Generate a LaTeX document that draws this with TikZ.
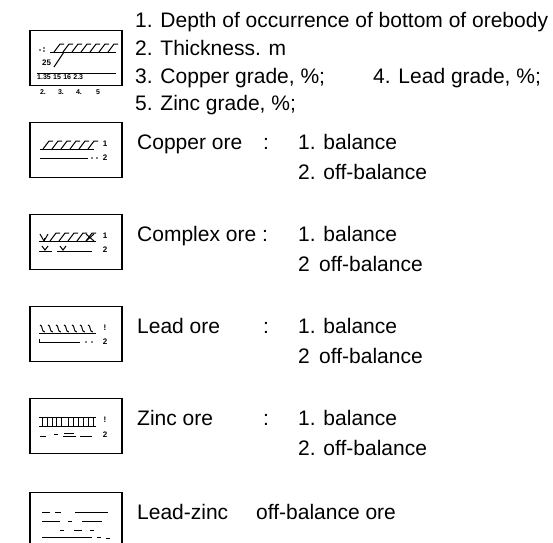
\documentclass[tikz,border=0pt]{standalone}
\usepackage{fontspec}
\setmainfont{Liberation Sans}
\tikzset{
  lbl/.style={anchor=base west, inner sep=0pt, font=\fontsize{21}{25}\selectfont},
  frame/.style={draw, line width=1.1pt, minimum width=91pt, minimum height=55pt, anchor=north west, inner sep=0pt},
  side/.style={line width=2.2pt},
  hat/.style={line width=1pt},
  tag/.style={inner sep=0pt, font=\bfseries\fontsize{8}{8}\selectfont},
  tiny/.style={inner sep=0pt, font=\bfseries\fontsize{7}{7}\selectfont},
}
\begin{document}
\begin{tikzpicture}[x=1pt, y=-1pt]
\useasboundingbox (0,0) rectangle (553,542);
\clip (0,0) rectangle (553,542);

% ---------- key box ----------
\node[frame] (b1) at (30,30) {};
\draw[side] (b1.north west) -- (b1.south west);
\draw[side] (b1.north east) -- (b1.south east);
\begin{scope}[shift={(b1.north west)}]
  \fill (10,20) circle (0.8) (14,18) circle (0.8) (14,21) circle (0.8);
  \foreach \i in {0,...,6} \draw[hat] (24+\i*9,22) -- (30+\i*9,14) -- (34+\i*9,14);
  \draw[hat] (20,22) -- (86,22);
  \node[tag, anchor=west] (d25) at (12,33) {25};
  \draw[hat] (24,37) -- (34,22);
  \node[tiny, anchor=west] (grades) at (7,47) {1.35\,\,15\,\,16\,\,2.3};
  \draw[hat] (7,43) -- (86,43);
\end{scope}
\node[tiny] (k2) at (43,92) {2.};
\node[tiny] (k3) at (61,92) {3.};
\node[tiny] (k4) at (79,92) {4.};
\node[tiny] (k5) at (98,92) {5};

\node[lbl] (t1) at (135,27.5) {1. Depth of occurrence of bottom of orebody};
\node[lbl] (t2) at (135,55) {2. Thickness. m};
\node[lbl] (t3) at (135,83) {3. Copper grade, \%;};
\node[lbl] (t4) at (373,83) {4. Lead grade, \%;};
\node[lbl] (t5) at (135,110) {5. Zinc grade, \%;};

% ---------- copper ore ----------
\node[frame] (b2) at (30,122) {};
\draw[side] (b2.north west) -- (b2.south west);
\draw[side] (b2.north east) -- (b2.south east);
\begin{scope}[shift={(b2.north west)}]
  \foreach \i in {0,...,5} \draw[hat] (13+\i*9,27) -- (19+\i*9,19) -- (23+\i*9,19);
  \draw[hat] (10,27) -- (64,27);
  \draw[hat] (10,36) -- (58,36);
  \fill (62,36) circle (0.8) (67,36) circle (0.8);
  \node[tag] (c1) at (75,22) {1};
  \node[tag] (c2) at (75,36) {2};
\end{scope}
\node[lbl] (cu) at (137,149.5) {Copper ore};
\node[lbl] (cuc) at (263,149.5) {:};
\node[lbl] (cu1) at (298,149.5) {1. balance};
\node[lbl] (cu2) at (298,179.5) {2. off-balance};

% ---------- complex ore ----------
\node[frame] (b3) at (30,214) {};
\draw[side] (b3.north west) -- (b3.south west);
\draw[side] (b3.north east) -- (b3.south east);
\begin{scope}[shift={(b3.north west)}]
  \draw[hat] (10,20) -- (14,27) -- (18,20);
  \draw[hat] (14,27) -- (14,24);
  \foreach \i in {0,...,4} \draw[hat] (20+\i*9,27) -- (26+\i*9,19) -- (30+\i*9,19);
  \draw[hat] (56,20) -- (64,27) (64,20) -- (56,27);
  \draw[hat] (9,27) -- (66,27);
  \draw[hat] (12,32) -- (15,36) -- (18,32);
  \draw[hat] (30,32) -- (33,36) -- (36,32);
  \draw[hat] (9,37) -- (22,37) (27,37) -- (62,37);
  \node[tag] (x1) at (75,22) {1};
  \node[tag] (x2) at (75,36) {2};
\end{scope}
\node[lbl] (cx) at (137,241.5) {Complex ore :};
\node[lbl] (cx1) at (298,241.5) {1. balance};
\node[lbl] (cx2) at (298,271.5) {2\, off-balance};

% ---------- lead ore ----------
\node[frame] (b4) at (30,306) {};
\draw[side] (b4.north west) -- (b4.south west);
\draw[side] (b4.north east) -- (b4.south east);
\begin{scope}[shift={(b4.north west)}]
  \foreach \i in {0,...,6}
    \draw[hat] (10+\i*8,19) .. controls (13+\i*8,19) and (11+\i*8,26) .. (15+\i*8,26);
  \draw[hat] (9,27) -- (66,27);
  \draw[hat] (9,36) -- (50,36);
  \draw[hat] (9,33) -- (9,36);
  \fill (56,36) circle (0.8) (62,36) circle (0.8);
  \node[tag] (p1) at (75,22) {!};
  \node[tag] (p2) at (75,36) {2};
\end{scope}
\node[lbl] (pb) at (137,333.5) {Lead ore};
\node[lbl] (pbc) at (263,333.5) {:};
\node[lbl] (pb1) at (298,333.5) {1. balance};
\node[lbl] (pb2) at (298,363.5) {2\, off-balance};

% ---------- zinc ore ----------
\node[frame] (b5) at (30,398) {};
\draw[side] (b5.north west) -- (b5.south west);
\draw[side] (b5.north east) -- (b5.south east);
\begin{scope}[shift={(b5.north west)}]
  \draw[hat] (9,19) -- (66,19);
  \draw[hat] (9,28) -- (66,28);
  \foreach \xx in {12,17,22,26,31,38,43,48,53,58,63} \draw[hat] (\xx,19) -- (\xx,28);
  \draw[hat] (10,38) -- (16,38) (24,36) -- (28,36) (33,38) -- (46,38) (50,38) -- (62,38);
  \draw[hat] (34,35) -- (44,35);
  \node[tag] (z1) at (75,22) {!};
  \node[tag] (z2) at (75,37) {2};
\end{scope}
\node[lbl] (zn) at (137,425.5) {Zinc ore};
\node[lbl] (znc) at (263,425.5) {:};
\node[lbl] (zn1) at (298,425.5) {1. balance};
\node[lbl] (zn2) at (298,455.5) {2. off-balance};

% ---------- lead-zinc off-balance ore ----------
\node[frame] (b6) at (30,492) {};
\draw[side] (b6.north west) -- (b6.south west);
\draw[side] (b6.north east) -- (b6.south east);
\begin{scope}[shift={(b6.north west)}]
  \draw[hat] (12,20) -- (20,20) (25,20) -- (31,20) (45,20) -- (78,20);
  \draw[hat] (12,29) -- (30,29) (38,29) -- (42,29) (52,29) -- (72,29);
  \draw[hat] (30,38) -- (34,38) (44,38) -- (52,38) (60,38) -- (64,38);
  \draw[hat] (12,45) -- (62,45) (67,45) -- (71,45) (76,46) -- (80,46);
\end{scope}
\node[lbl] (lz) at (137,519.5) {Lead-zinc};
\node[lbl] (lz1) at (256,519.5) {off-balance ore};
\end{tikzpicture}
\end{document}
